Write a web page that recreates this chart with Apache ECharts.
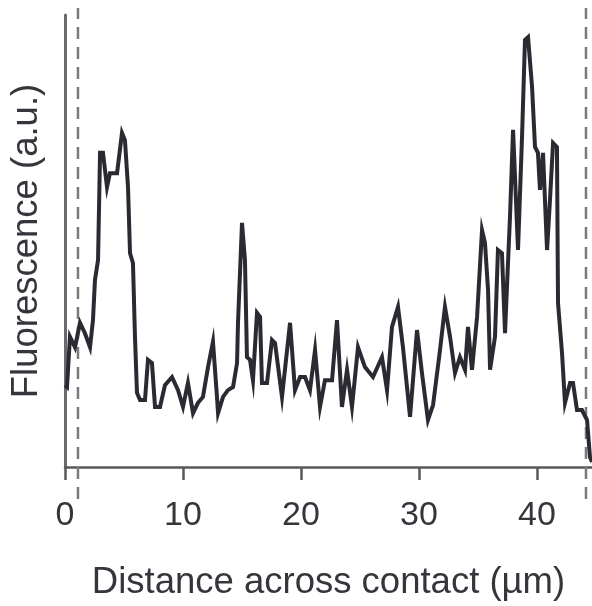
<!DOCTYPE html>
<html>
<head>
<meta charset="utf-8">
<script src="https://cdn.jsdelivr.net/npm/echarts@6/dist/echarts.min.js"></script>
<style>html,body{margin:0;padding:0;background:#fff}#c{width:592px;height:606px}</style>
</head>
<body>
<div id="c"></div>
<script>
const distance = [0.00,0.17,0.42,0.85,1.27,1.69,2.12,2.37,2.54,2.80,2.97,3.22,3.56,3.81,4.41,4.83,5.08,5.34,5.51,5.76,5.93,6.10,6.36,6.78,7.03,7.37,7.63,8.05,8.47,9.07,9.58,10.00,10.42,10.85,11.27,11.69,12.12,12.54,12.88,12.97,13.39,13.81,14.24,14.58,14.66,15.00,15.25,15.42,15.68,15.93,16.27,16.53,16.69,17.12,17.54,17.80,18.39,19.07,19.49,19.92,20.34,20.76,21.19,21.61,22.03,22.63,23.05,23.47,23.90,24.32,24.83,25.42,26.10,26.86,27.29,27.71,28.22,28.64,29.24,29.83,30.25,30.76,31.19,31.78,32.20,32.63,33.05,33.47,33.90,34.15,34.49,34.92,35.34,35.59,35.85,36.02,36.44,36.69,37.03,37.29,37.54,37.71,37.97,38.39,38.73,38.98,39.24,39.58,39.83,40.08,40.25,40.51,40.85,41.10,41.36,41.69,41.78,42.12,42.37,42.80,43.05,43.39,43.81,44.24,44.49,44.66];
const fluorescence = [18.1,17.7,28.8,26.5,31.9,29.6,26.5,32.5,41.4,45.8,69.5,69.5,61.9,65.0,65.0,73.9,72.3,61.9,47.3,45.1,28.8,16.4,14.8,14.8,23.7,23.0,13.3,13.3,18.1,19.9,17.0,13.3,18.6,11.9,14.2,15.5,22.1,27.7,15.5,11.9,15.5,17.0,17.7,23.0,31.9,54.0,45.8,24.3,23.7,19.2,34.1,33.2,18.6,18.6,28.1,27.4,15.5,31.9,17.0,19.9,19.9,17.0,25.9,13.3,19.2,19.2,32.5,13.3,21.5,13.3,26.5,22.1,19.9,24.3,17.0,31.0,35.4,26.5,11.1,30.3,20.8,10.4,13.7,25.9,35.4,28.8,20.8,24.3,21.5,31.0,21.5,33.2,52.4,49.6,39.2,21.5,28.8,48.0,47.3,29.6,45.1,55.3,74.6,48.0,73.0,94.5,95.1,84.1,70.8,69.5,61.3,69.5,48.0,59.1,71.7,70.8,36.3,25.2,14.2,18.6,18.6,12.6,12.6,10.4,2.2,1.1];
const xTicks = [0, 10, 20, 30, 40];
const contactEdges = [1.1, 44.15];
const xLabel = 'Distance across contact (µm)';
const yLabel = 'Fluorescence (a.u.)';

const X_MAX = 44.66;
const chart = echarts.init(document.getElementById('c'), null, {renderer: 'canvas'});
const font = 'Liberation Sans, Arial, Helvetica, sans-serif';
const edgeSeries = contactEdges.map(x => ({
  type: 'line', xAxisIndex: 1, yAxisIndex: 1, symbol: 'none', silent: true,
  data: [[x, 0], [x, 1]],
  lineStyle: {color: '#7a7a7e', width: 2.5, type: [12, 8]}, z: 1
}));
chart.setOption({
  animation: false,
  backgroundColor: '#fff',
  grid: [
    {left: 65, right: 0, top: 15, bottom: 139, containLabel: false},
    {left: 65, right: 0, top: 8, bottom: 107, containLabel: false}
  ],
  xAxis: [{
    type: 'value', min: 0, max: X_MAX, interval: 10, gridIndex: 0,
    name: xLabel, nameLocation: 'middle', nameGap: 97,
    nameTextStyle: {fontFamily: font, fontSize: 36.5, color: '#35363c'},
    axisLine: {show: true, lineStyle: {color: '#58585c', width: 2.5}},
    axisTick: {show: true, length: 13, customValues: xTicks, lineStyle: {color: '#58585c', width: 2.5}},
    axisLabel: {customValues: xTicks, margin: 32, fontFamily: font, fontSize: 34, color: '#35363c'},
    splitLine: {show: false}
  }, {
    type: 'value', min: 0, max: X_MAX, gridIndex: 1, show: false
  }],
  yAxis: [{
    type: 'value', min: 0, max: 100, gridIndex: 0,
    name: yLabel, nameLocation: 'middle', nameGap: 20, nameRotate: 90,
    nameTextStyle: {fontFamily: font, fontSize: 36.5, color: '#35363c'},
    axisLine: {show: true, lineStyle: {color: '#6a6a6e', width: 3}},
    axisTick: {show: false}, axisLabel: {show: false}, splitLine: {show: false}
  }, {
    type: 'value', min: 0, max: 1, gridIndex: 1, show: false
  }],
  series: [...edgeSeries, {
    type: 'line', xAxisIndex: 0, yAxisIndex: 0, symbol: 'none', clip: false,
    data: distance.map((d, i) => [d, fluorescence[i]]),
    lineStyle: {color: '#2a2a33', width: 4, join: 'miter'}, z: 3
  }]
});
</script>
</body>
</html>
